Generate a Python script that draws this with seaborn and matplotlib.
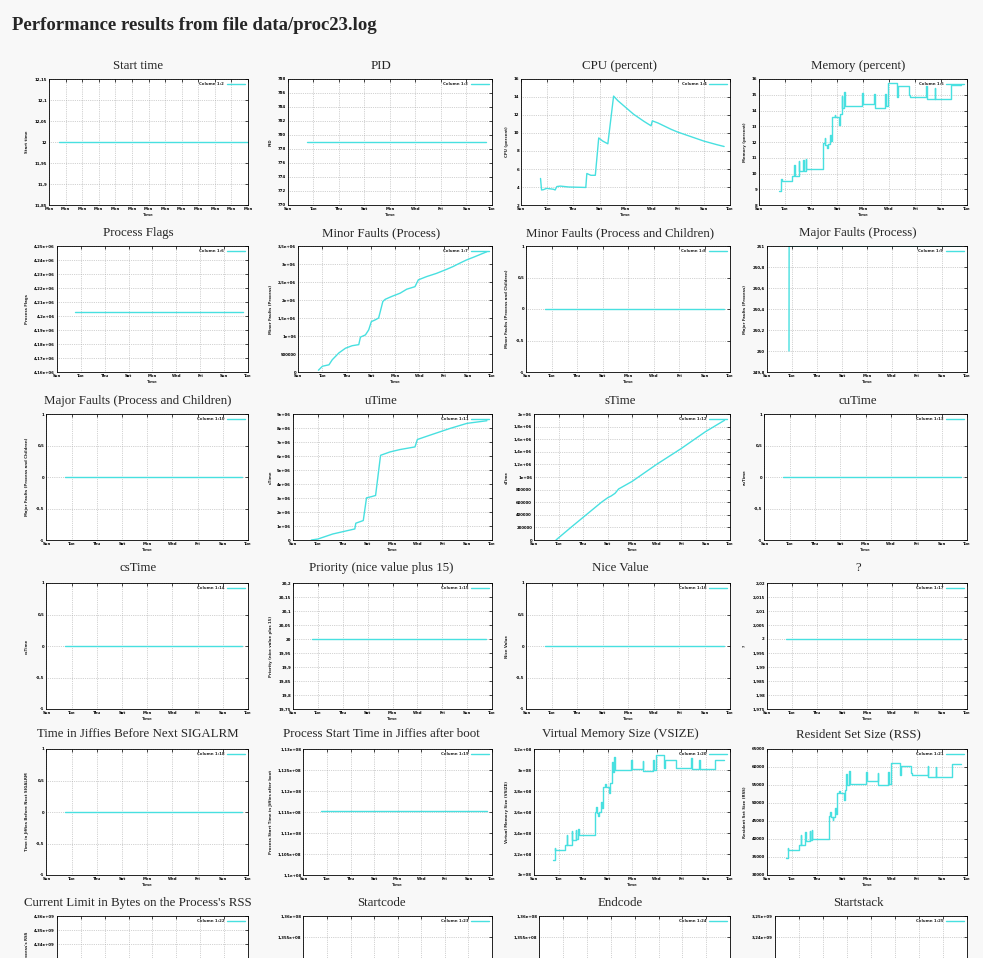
import numpy as np
import pandas as pd
import matplotlib
matplotlib.use("Agg")
import matplotlib.pyplot as plt
import matplotlib.dates as mdates
import seaborn as sns

sns.set_theme(style="white")
plt.rcParams["font.family"] = ["DejaVu Sans"]

# ---------------- data ----------------
BASE_DAY = "2011-01-02"           # a Sunday: x axis runs Sun .. Tue (16 days)
RUN_START, RUN_END = 1.5, 15.55   # days after BASE_DAY covered by the log

titles = ["Start time", "PID", "CPU (percent)", "Memory (percent)",
          "Process Flags", "Minor Faults (Process)", "Minor Faults (Process and Children)", "Major Faults (Process)",
          "Major Faults (Process and Children)", "uTime", "sTime", "cuTime",
          "csTime", "Priority (nice value plus 15)", "Nice Value", "?",
          "Time in Jiffies Before Next SIGALRM", "Process Start Time in Jiffies after boot",
          "Virtual Memory Size (VSIZE)", "Resident Set Size (RSS)",
          "Current Limit in Bytes on the Process's RSS", "Startcode", "Endcode", "Startstack"]
legend_cols = ["Column 1:%d" % k for k in range(2, 26)]

# Start time panel has its own (hourly) axis, every tick says "Mon"
start_time_x = ["2011-01-03 12:03", "2011-01-03 13:10"]
start_time_y = [12, 12]
start_time_ticks = pd.date_range("2011-01-03 12:00", periods=13, freq="5min")

const_days = [RUN_START, RUN_END]
pid_y = [779, 779]
flags_y = [4202800, 4202800]
zero_y = [0, 0]
prio_y = [20, 20]
q_y = [2, 2]
pst_y = [111520000, 111520000]
rlim_y = [4294967295, 4294967295]
startcode_y = [134512640, 134512640]
endcode_y = [134550000, 134550000]
startstack_y = [3218300000, 3218300000]

cpu_days = [1.48, 1.56, 1.70, 1.95, 2.47, 2.60, 2.73, 3.00, 3.65, 4.95, 5.03, 5.34, 5.68, 5.94,
            6.25, 6.64, 7.08, 7.40, 7.80, 8.20, 8.60, 9.00, 9.40, 9.95, 10.05, 10.50, 11.00,
            11.50, 12.00, 12.50, 13.00, 13.50, 14.00, 14.50, 15.00, 15.55]
cpu_y = [4.95, 3.67, 3.70, 3.85, 3.75, 3.67, 4.05, 4.10, 4.00, 3.95, 5.50, 5.30, 5.30, 9.45,
         9.10, 8.80, 14.10, 13.60, 13.10, 12.60, 12.10, 11.70, 11.30, 10.80, 11.35, 11.10, 10.75,
         10.40, 10.10, 9.85, 9.60, 9.35, 9.10, 8.90, 8.70, 8.50]

mem_days = [1.53, 1.68, 1.72, 2.55, 2.68, 2.72, 3.05, 3.09, 3.40, 3.44, 3.60, 3.64, 4.95, 5.05,
            5.10, 5.25, 5.30, 5.45, 5.50, 5.62, 5.80, 5.85, 6.15, 6.20, 6.35, 6.40, 6.55, 6.60,
            7.95, 8.00, 8.85, 8.90, 9.70, 9.75, 9.95, 10.60, 10.70, 11.55, 11.62, 12.85, 12.90,
            13.50, 13.55, 14.80, 15.55]
mem_y = [8.90, 9.63, 9.50, 9.86, 10.53, 9.86, 10.79, 10.14, 10.84, 10.17, 10.92, 10.27, 11.96, 12.24,
         11.83, 11.62, 11.88, 12.47, 12.09, 13.59, 13.69, 13.59, 13.07, 13.77, 14.93, 14.16, 15.19, 14.26,
         15.12, 14.40, 15.04, 14.16, 15.06, 14.26, 15.76, 14.86, 15.54, 14.99, 14.87, 15.56, 14.70,
         15.45, 14.70, 15.63, 15.63]
vsize_y = [2.140e8, 2.260e8, 2.240e8, 2.290e8, 2.380e8, 2.290e8, 2.420e8, 2.330e8, 2.430e8, 2.340e8,
           2.440e8, 2.380e8, 2.600e8, 2.650e8, 2.590e8, 2.560e8, 2.600e8, 2.700e8, 2.640e8, 2.840e8,
           2.870e8, 2.840e8, 2.780e8, 2.880e8, 3.080e8, 2.980e8, 3.120e8, 3.000e8, 3.100e8, 3.010e8,
           3.090e8, 2.990e8, 3.100e8, 3.000e8, 3.140e8, 3.020e8, 3.100e8, 3.040e8, 3.020e8, 3.110e8,
           3.010e8, 3.100e8, 3.010e8, 3.100e8, 3.100e8]
rss_y = [34700, 37500, 37000, 38400, 41000, 38400, 42000, 39500, 42200, 39600, 42500, 40000, 46500, 47600,
         46000, 45200, 46200, 48500, 47000, 52800, 53200, 52800, 50800, 53500, 58000, 55000, 59000, 55400,
         58700, 56000, 58400, 55000, 58500, 55400, 61200, 57700, 60350, 58200, 57750, 60400, 57100,
         60000, 57100, 60700, 60700]

minf_days = [1.67, 2.00, 2.54, 2.81, 3.36, 3.90, 4.45, 5.00, 5.14, 5.55, 5.82, 6.04, 6.37, 6.64,
             6.99, 7.19, 7.73, 8.42, 8.96, 9.64, 9.92, 10.60, 11.42, 12.24, 12.79, 13.20, 13.88,
             14.56, 15.57]
minf_y = [0.05e6, 0.16e6, 0.20e6, 0.34e6, 0.53e6, 0.66e6, 0.73e6, 0.76e6, 0.97e6, 1.03e6, 1.17e6,
          1.40e6, 1.45e6, 1.50e6, 1.96e6, 2.02e6, 2.10e6, 2.19e6, 2.30e6, 2.37e6, 2.56e6, 2.65e6,
          2.74e6, 2.85e6, 2.93e6, 3.00e6, 3.11e6, 3.20e6, 3.34e6]

majf_days = [1.76, 1.77, RUN_END]
majf_y = [250, 251, 251]

utime_days = [1.48, 2.00, 3.20, 4.97, 5.05, 5.65, 5.91, 6.32, 6.64, 7.04, 7.80, 8.60, 9.81, 10.00,
              11.02, 12.63, 13.98, 15.59]
utime_y = [0, 0.07e6, 0.43e6, 0.79e6, 1.20e6, 1.39e6, 3.01e6, 3.10e6, 3.18e6, 6.05e6, 6.29e6,
           6.46e6, 6.65e6, 7.18e6, 7.49e6, 7.97e6, 8.33e6, 8.52e6]

stime_days = [1.78, 3.00, 4.50, 5.50, 6.00, 6.30, 6.60, 6.90, 8.00, 10.00, 12.00, 14.00, 15.55]
stime_y = [0, 0.20e6, 0.44e6, 0.60e6, 0.67e6, 0.70e6, 0.74e6, 0.81e6, 0.93e6, 1.20e6, 1.45e6,
           1.72e6, 1.90e6]

# y ticks (gnuplot autoscale)
yt_start = [11.85, 11.9, 11.95, 12, 12.05, 12.1, 12.15]
yt_pid = [770, 772, 774, 776, 778, 780, 782, 784, 786, 788]
yt_cpu = [2, 4, 6, 8, 10, 12, 14, 16]
yt_mem = [8, 9, 10, 11, 12, 13, 14, 15, 16]
yt_flags = [4.16e6, 4.17e6, 4.18e6, 4.19e6, 4.2e6, 4.21e6, 4.22e6, 4.23e6, 4.24e6, 4.25e6]
yt_minf = [0, 500000, 1e6, 1.5e6, 2e6, 2.5e6, 3e6, 3.5e6]
yt_unit = [-1, -0.5, 0, 0.5, 1]
yt_majf = [249.8, 250, 250.2, 250.4, 250.6, 250.8, 251]
yt_utime = [0, 1e6, 2e6, 3e6, 4e6, 5e6, 6e6, 7e6, 8e6, 9e6]
yt_stime = [0, 200000, 400000, 600000, 800000, 1e6, 1.2e6, 1.4e6, 1.6e6, 1.8e6, 2e6]
yt_prio = [19.75, 19.8, 19.85, 19.9, 19.95, 20, 20.05, 20.1, 20.15, 20.2]
yt_q = [1.975, 1.98, 1.985, 1.99, 1.995, 2, 2.005, 2.01, 2.015, 2.02]
yt_pst = [1.1e8, 1.105e8, 1.11e8, 1.115e8, 1.12e8, 1.125e8, 1.13e8]
yt_vsize = [2e8, 2.2e8, 2.4e8, 2.6e8, 2.8e8, 3e8, 3.2e8]
yt_rss = [30000, 35000, 40000, 45000, 50000, 55000, 60000, 65000]
yt_rlim = [4.27e9, 4.28e9, 4.29e9, 4.3e9, 4.31e9, 4.32e9, 4.33e9, 4.34e9, 4.35e9, 4.36e9]
yt_code = [1.33e8, 1.335e8, 1.34e8, 1.345e8, 1.35e8, 1.355e8, 1.36e8]
yt_stack = [3.19e9, 3.2e9, 3.21e9, 3.22e9, 3.23e9, 3.24e9, 3.25e9]

series = [
    (None, start_time_y, yt_start, "default"),
    (const_days, pid_y, yt_pid, "default"),
    (cpu_days, cpu_y, yt_cpu, "default"),
    (mem_days, mem_y, yt_mem, "steps-post"),
    (const_days, flags_y, yt_flags, "default"),
    (minf_days, minf_y, yt_minf, "default"),
    (const_days, zero_y, yt_unit, "default"),
    (majf_days, majf_y, yt_majf, "default"),
    (const_days, zero_y, yt_unit, "default"),
    (utime_days, utime_y, yt_utime, "default"),
    (stime_days, stime_y, yt_stime, "default"),
    (const_days, zero_y, yt_unit, "default"),
    (const_days, zero_y, yt_unit, "default"),
    (const_days, prio_y, yt_prio, "default"),
    (const_days, zero_y, yt_unit, "default"),
    (const_days, q_y, yt_q, "default"),
    (const_days, zero_y, yt_unit, "default"),
    (const_days, pst_y, yt_pst, "default"),
    (mem_days, vsize_y, yt_vsize, "steps-post"),
    (mem_days, rss_y, yt_rss, "steps-post"),
    (const_days, rlim_y, yt_rlim, "default"),
    (const_days, startcode_y, yt_code, "default"),
    (const_days, endcode_y, yt_code, "default"),
    (const_days, startstack_y, yt_stack, "default"),
]

# ---------------- layout ----------------
W, H = 983, 958
LINE = "#48e0e0"
COL_BASE = [10, 254, 490, 728]
COL_RIGHT = [248, 492, 730, 967]
TITLE_CX = [138, 381, 620, 858]
ROW_TITLE_Y = [66, 233, 401, 568, 734, 903]
ROW_TOP = [79, 246, 414, 583, 749, 916]
AX_H = 126
TICK_FS = 2.8

base = pd.Timestamp(BASE_DAY)
day_ticks = pd.date_range(base, periods=9, freq="2D")


def fmt(v):
    return ("%g" % v).replace(".", ",")


fig = plt.figure(figsize=(W / 100, H / 100), dpi=100, facecolor="#f8f8f8")
fig.text(12 / W, 1 - 25 / H, "Performance results from file data/proc23.log",
         fontsize=13.5, fontweight="bold", family="Liberation Serif", va="center", ha="left")

for i, (days, yv, yt, ds) in enumerate(series):
    r, c = divmod(i, 4)
    labels = [fmt(v) for v in yt]
    n = max(len(s) for s in labels)
    left = COL_BASE[c] + 26 + 2.6 * n
    right = COL_RIGHT[c]
    top = ROW_TOP[r]
    bottom_visible = top + AX_H < H
    # tick labels that would fall below the page edge are left blank
    shown = []
    for v, s in zip(yt, labels):
        ypx = top + (yt[-1] - v) / (yt[-1] - yt[0]) * AX_H
        shown.append(s if ypx + 2.5 < H else "")

    ax = fig.add_axes([left / W, 1 - (top + AX_H) / H, (right - left) / W, AX_H / H])
    ax.set_facecolor("white")

    if days is None:
        xs = pd.to_datetime(start_time_x)
    else:
        xs = base + pd.to_timedelta(days, unit="D")
    df = pd.DataFrame({"Time": xs, "value": yv})
    sns.lineplot(data=df, x="Time", y="value", ax=ax, color=LINE, linewidth=1.0,
                 label=legend_cols[i], estimator=None, drawstyle=ds)

    if days is None:
        ax.set_xlim(start_time_ticks[0], start_time_ticks[-1])
        ax.set_xticks(start_time_ticks)
    else:
        ax.set_xlim(day_ticks[0], day_ticks[-1])
        ax.set_xticks(day_ticks)
    ax.xaxis.set_major_formatter(mdates.DateFormatter("%a"))
    ax.set_ylim(yt[0], yt[-1])
    ax.set_yticks(yt)
    ax.set_yticklabels(shown)

    ax.tick_params(direction="in", length=2, width=0.5, top=True, right=True,
                   labelsize=TICK_FS, pad=1.5, colors="black",
                   labelbottom=bottom_visible)
    for lbl in ax.get_xticklabels() + ax.get_yticklabels():
        lbl.set_fontweight("bold")
    ax.grid(True, linestyle=":", color="#a8a8a8", linewidth=0.5)
    for sp in ax.spines.values():
        sp.set_color("black")
        sp.set_linewidth(0.6)
    if bottom_visible:
        ax.set_xlabel("Time", fontsize=TICK_FS, fontweight="bold", labelpad=1.5)
    else:
        ax.set_xlabel("")
    ax.set_ylabel("")

    # rotated y-axis label; on the cut-off last row it is kept only where
    # part of it still shows above the page edge (as in the reference)
    ylab_len_px = 2.3 * len(titles[i])
    ylab_top = top + AX_H / 2 - ylab_len_px / 2
    if bottom_visible or ylab_top < H - 12:
        fig.text((COL_BASE[c] + 17) / W, 1 - (top + AX_H / 2) / H, titles[i],
                 rotation=90, fontsize=TICK_FS, fontweight="bold", ha="center", va="center")
    ax.legend(loc="upper right", frameon=False, markerfirst=False, handlelength=4.5,
              handletextpad=0.8, borderaxespad=0.4, prop={"size": TICK_FS, "weight": "bold"})

    fig.text(TITLE_CX[c] / W, 1 - ROW_TITLE_Y[r] / H, titles[i], fontsize=9.3,
             family="Liberation Serif", ha="center", va="center")

fig.savefig("out.png", dpi=100, facecolor=fig.get_facecolor())
